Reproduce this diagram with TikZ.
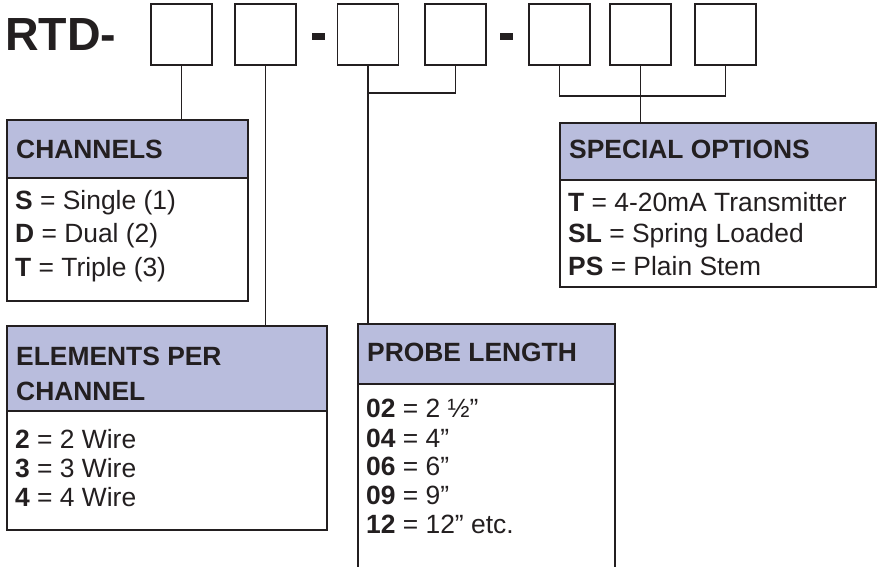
\documentclass[tikz,border=0pt]{standalone}
\usepackage{fontspec}
\setmainfont{Liberation Sans}
\definecolor{ink}{HTML}{231F20}
\definecolor{lav}{HTML}{B9BDDD}
\begin{document}
\begin{tikzpicture}[x=1pt,y=-1pt,
  sq/.style={draw=ink,line width=1.6pt,minimum size=61pt,inner sep=0pt,fill=white},
  panel/.style={draw=ink,line width=1.6pt,inner sep=0pt,anchor=north west,fill=white},
  hdr/.style={draw=ink,line width=1.6pt,inner sep=0pt,anchor=north west,fill=lav},
  htxt/.style={anchor=base west,inner sep=0pt,text=ink,font=\fontsize{26.4}{30}\selectfont\bfseries},
  btxt/.style={anchor=base west,inner sep=0pt,text=ink,font=\fontsize{26.4}{30}\selectfont},
  conn/.style={draw=ink,line width=1.5pt}]
\useasboundingbox (0,0) rectangle (877,566);
\clip (0,0) rectangle (877,566);
% title
\node[anchor=base west,inner sep=0pt,text=ink,font=\fontsize{46.5}{50}\selectfont\bfseries] (rtd) at (5,50) {RTD-};
% code boxes
\node[sq] (b1) at (181.5,34.5) {};
\node[sq] (b2) at (265.5,34.5) {};
\node[sq] (b3) at (368,34.5) {};
\node[sq] (b4) at (455.5,34.5) {};
\node[sq] (b5) at (559.5,34.5) {};
\node[sq] (b6) at (640.5,34.5) {};
\node[sq] (b7) at (725.5,34.5) {};
\node[fill=ink,inner sep=0pt,minimum width=13pt,minimum height=7pt] (d1) at (318.5,36) {};
\node[fill=ink,inner sep=0pt,minimum width=13pt,minimum height=7pt] (d2) at (506.5,36) {};
% panels
\node[panel,minimum width=241pt,minimum height=181pt] (chan) at (6,119) {};
\node[hdr,minimum width=241pt,minimum height=58pt] (chanh) at (chan.north west) {};
\node[panel,minimum width=320pt,minimum height=204pt] (elem) at (6,325) {};
\node[hdr,minimum width=320pt,minimum height=85pt] (elemh) at (elem.north west) {};
\node[panel,minimum width=257pt,minimum height=280pt] (probe) at (357,323) {};
\node[hdr,minimum width=257pt,minimum height=60pt] (probeh) at (probe.north west) {};
\node[panel,minimum width=316pt,minimum height=164pt] (spec) at (559,122) {};
\node[hdr,minimum width=316pt,minimum height=57pt] (spech) at (spec.north west) {};
% connectors
\draw[conn] (b1.south) -- (b1.south |- chan.north);
\draw[conn] (b2.south) -- (b2.south |- elem.north);
\draw[conn] (b3.south) -- (b3.south |- probe.north);
\coordinate (j1) at (368,93);
\draw[conn] (b4.south) |- (j1);
\coordinate (j2) at (640.5,96);
\draw[conn] (b5.south) |- (j2) -| (b7.south);
\draw[conn] (b6.south) -- (b6.south |- spec.north);
% channels
\node[htxt] (chant) at (16,158) {CHANNELS};
\node[btxt] (c1) at (15,209) {\textbf{S} = Single (1)};
\node[btxt] (c2) at (15,242) {\textbf{D} = Dual (2)};
\node[btxt] (c3) at (15,276) {\textbf{T} = Triple (3)};
% elements
\node[htxt] (elemt1) at (16,365) {ELEMENTS PER};
\node[htxt] (elemt2) at (16,400) {CHANNEL};
\node[btxt] (e1) at (15,448) {\textbf{2} = 2 Wire};
\node[btxt] (e2) at (15,477) {\textbf{3} = 3 Wire};
\node[btxt] (e3) at (15,506) {\textbf{4} = 4 Wire};
% probe
\node[htxt] (probet) at (367,361) {PROBE LENGTH};
\node[btxt] (p1) at (366,417) {\textbf{02} = 2 ½”};
\node[btxt] (p2) at (366,447) {\textbf{04} = 4”};
\node[btxt] (p3) at (366,475) {\textbf{06} = 6”};
\node[btxt] (p4) at (366,504) {\textbf{09} = 9”};
\node[btxt] (p5) at (366,533) {\textbf{12} = 12” etc.};
% special
\node[htxt] (spect) at (569,158) {SPECIAL OPTIONS};
\node[btxt] (s1) at (568,211) {\textbf{T} = 4-20mA Transmitter};
\node[btxt] (s2) at (568,242) {\textbf{SL} = Spring Loaded};
\node[btxt] (s3) at (568,275) {\textbf{PS} = Plain Stem};
\end{tikzpicture}
\end{document}
